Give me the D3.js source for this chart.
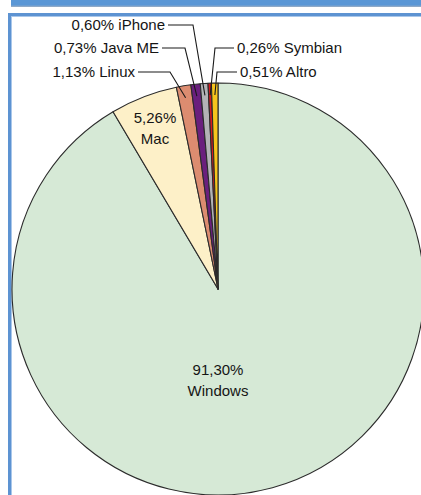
<!DOCTYPE html>
<html>
<head>
<meta charset="utf-8">
<script src="https://cdn.jsdelivr.net/npm/d3@7"></script>
<style>
  html, body { margin: 0; padding: 0; background: #fff; }
  svg { display: block; }
  text { font-family: "Liberation Sans", Arial, sans-serif; fill: #151515; }
</style>
</head>
<body>
<svg width="421" height="495"></svg>
<script>
const svg = d3.select('svg');
const width = 421;
const height = 495;

// market share, clockwise from 12 o'clock
const names = ['Windows', 'Mac', 'Linux', 'Java ME', 'iPhone', 'Symbian', 'Altro'];
const shares = [91.30, 5.26, 1.13, 0.73, 0.60, 0.26, 0.51];
const shareLabels = ['91,30%', '5,26%', '1,13%', '0,73%', '0,60%', '0,26%', '0,51%'];
const colors = ['#d6e9d6', '#fdf0c8', '#dc8c70', '#6a1f7d', '#b3b3b6', '#d51920', '#f7c51c'];

const data = names.map((n, i) => ({ name: n, value: shares[i], label: shareLabels[i], color: colors[i] }));

const fontSize = 15;

// frame: blue header strip + border
const defs = svg.append('defs');
const grad = defs.append('linearGradient')
    .attr('id', 'hdr').attr('x1', 0).attr('y1', 0).attr('x2', 0).attr('y2', 1);
grad.append('stop').attr('offset', '0%').attr('stop-color', '#5a97d6');
grad.append('stop').attr('offset', '70%').attr('stop-color', '#5a97d6');
grad.append('stop').attr('offset', '100%').attr('stop-color', '#9fb0c4');

svg.append('rect')
    .attr('x', 11).attr('y', 0)
    .attr('width', width - 11).attr('height', 7)
    .attr('fill', 'url(#hdr)');

svg.append('rect')
    .attr('x', 9.5).attr('y', 14.5)
    .attr('width', width + 10).attr('height', height + 10)
    .attr('fill', 'none')
    .attr('stroke', '#5d93d2')
    .attr('stroke-width', 3);
svg.append('rect')
    .attr('x', 11.5).attr('y', 16.5)
    .attr('width', width + 10).attr('height', height + 10)
    .attr('fill', 'none')
    .attr('stroke', '#a9c7ea')
    .attr('stroke-width', 1);

// pie
const cx = 218, cy = 289, r = 206;

const pie = d3.pie()
    .sort(null)
    .value(d => d.value);

const arc = d3.arc().innerRadius(0).outerRadius(r);
const arcs = pie(data);

const g = svg.append('g')
    .attr('transform', `translate(${cx},${cy})`);

g.selectAll('path.slice')
  .data(arcs)
  .enter().append('path')
    .attr('class', 'slice')
    .attr('d', arc)
    .attr('fill', d => d.data.color)
    .attr('stroke', '#2b2b2b')
    .attr('stroke-width', 1.1)
    .attr('stroke-linejoin', 'round');

// inside labels (Windows, Mac)
const inside = [
  { name: 'Windows', x: 0, y: 86 },
  { name: 'Mac', x: -63, y: -166 }
];
inside.forEach(p => {
  const d = data.find(e => e.name === p.name);
  const t = g.append('text')
      .attr('text-anchor', 'middle')
      .attr('font-size', fontSize)
      .attr('transform', `translate(${p.x},${p.y})`);
  t.append('tspan').attr('x', 0).attr('y', 0).text(d.label);
  t.append('tspan').attr('x', 0).attr('y', 21).text(d.name);
});

// outside labels with leader lines (page coords: text anchor point, elbow)
const callouts = [
  { name: 'iPhone',  tx: 165, ty: 30, side: 'left',  elbowX: 193, lineY: 25 },
  { name: 'Java ME', tx: 159, ty: 53, side: 'left',  elbowX: 185, lineY: 48 },
  { name: 'Linux',   tx: 135, ty: 77, side: 'left',  elbowX: 170, lineY: 72 },
  { name: 'Symbian', tx: 237, ty: 53, side: 'right', elbowX: 215, lineY: 48 },
  { name: 'Altro',   tx: 240, ty: 77, side: 'right', elbowX: 217, lineY: 72 }
];

const pointArc = d3.arc().innerRadius(r - 12).outerRadius(r - 12);

callouts.forEach(c => {
  const a = arcs.find(e => e.data.name === c.name);
  const [px, py] = pointArc.centroid(a);
  const startX = c.side === 'left' ? c.tx + 3 : c.tx - 3;
  svg.append('polyline')
      .attr('points', [[startX, c.lineY], [c.elbowX, c.lineY], [cx + px, cy + py]].map(p => p.join(',')).join(' '))
      .attr('fill', 'none')
      .attr('stroke', '#1a1a1a')
      .attr('stroke-width', 1.1);
  svg.append('text')
      .attr('x', c.tx)
      .attr('y', c.ty)
      .attr('font-size', fontSize)
      .attr('text-anchor', c.side === 'left' ? 'end' : 'start')
      .text(`${a.data.label} ${a.data.name}`);
});
</script>
</body>
</html>
